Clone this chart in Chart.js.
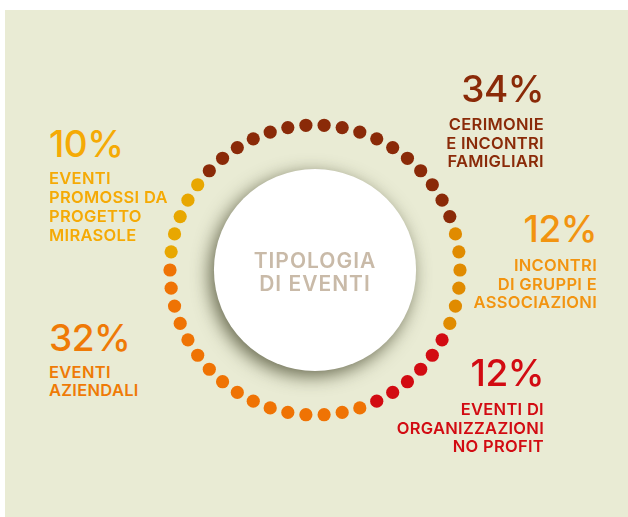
<!DOCTYPE html>
<html lang="it">
<head>
  <meta charset="UTF-8" />
  <title>Tipologia di eventi</title>
  <script src="https://cdn.jsdelivr.net/npm/chart.js"></script>
  <style>
    html, body { margin: 0; padding: 0; background: #ffffff; }
    body {
      width: 628px; height: 517px;
      position: relative; overflow: hidden;
      font-family: Inter, "Open Sans", sans-serif;
    }
    #panel { position: absolute; left: 5px; top: 10px; right: 0; bottom: 0; background: #e9ebd4; }
    #ring { position: absolute; left: 150px; top: 105px; width: 330px; height: 330px; }
    .pct { position: absolute; font-size: 37px; line-height: 40px; font-weight: 500; white-space: nowrap; letter-spacing: -0.5px; }
    .txt { position: absolute; font-size: 16.5px; line-height: 18.5px; font-weight: 600; white-space: nowrap; letter-spacing: 0.3px; }
    .right { text-align: right; }
    #center {
      position: absolute; left: 215px; top: 249px; width: 200px;
      text-align: center; font-size: 21px; line-height: 23.4px; font-weight: 600; color: #c9baa8;
      letter-spacing: 1px;
    }
  </style>
</head>
<body>
  <div id="panel"></div>
  <canvas id="ring" width="330" height="330"></canvas>
  <div id="center">TIPOLOGIA<br>DI EVENTI</div>
  <div id="labels"></div>

  <script>
    // categories clockwise from the top-left start of the ring
    const categories = [
      "Cerimonie e incontri famigliari",
      "Incontri di gruppi e associazioni",
      "Eventi di organizzazioni no profit",
      "Eventi aziendali",
      "Eventi promossi da progetto Mirasole"
    ];
    const percentages = [34, 12, 12, 32, 10];
    const labelLines = [
      ["CERIMONIE", "E INCONTRI", "FAMIGLIARI"],
      ["INCONTRI", "DI GRUPPI E", "ASSOCIAZIONI"],
      ["EVENTI DI", "ORGANIZZAZIONI", "NO PROFIT"],
      ["EVENTI", "AZIENDALI"],
      ["EVENTI", "PROMOSSI DA", "PROGETTO", "MIRASOLE"]
    ];
    const dotColors = ["#8a2a08", "#e08b00", "#d20b12", "#ef7304", "#e8a700"];
    const textColors = ["#8a2a08", "#f29410", "#d20b12", "#ef7a06", "#f5aa05"];
    const percentPerDot = 2;

    // one dot = 2%
    const dotLabels = [], dotValues = [], dotFill = [];
    categories.forEach((cat, i) => {
      const n = percentages[i] / percentPerDot;
      for (let k = 0; k < n; k++) {
        dotLabels.push(cat);
        dotValues.push(1);
        dotFill.push(dotColors[i]);
      }
    });

    // label blocks placement
    const blocks = [
      { side: "right", x: 84, pctTop: 68.5, txtTop: 115 },
      { side: "right", x: 31, pctTop: 208.5, txtTop: 256 },
      { side: "right", x: 84, pctTop: 353, txtTop: 400 },
      { side: "left", x: 49, pctTop: 317.5, txtTop: 362.5 },
      { side: "left", x: 49, pctTop: 123.5, txtTop: 168.5, lh: 19 }
    ];
    const holder = document.getElementById("labels");
    blocks.forEach((b, i) => {
      const p = document.createElement("div");
      p.className = "pct" + (b.side === "right" ? " right" : "");
      p.textContent = percentages[i] + "%";
      p.style.color = textColors[i];
      p.style.top = b.pctTop + "px";
      p.style[b.side] = b.x + "px";
      holder.appendChild(p);

      const t = document.createElement("div");
      t.className = "txt" + (b.side === "right" ? " right" : "");
      t.innerHTML = labelLines[i].join("<br>");
      t.style.color = textColors[i];
      t.style.top = b.txtTop + "px";
      t.style[b.side] = b.x + "px";
      if (b.lh) t.style.lineHeight = b.lh + "px";
      holder.appendChild(t);
    });

    // white disc with shadow in the middle of the ring
    const centerDisc = {
      id: "centerDisc",
      beforeDatasetsDraw(chart) {
        const r = chart.scales.r;
        const ctx = chart.ctx;
        ctx.save();
        ctx.shadowColor = "rgba(60, 62, 35, 0.75)";
        ctx.shadowBlur = 18;
        ctx.shadowOffsetX = -4;
        ctx.shadowOffsetY = 5;
        ctx.fillStyle = "#ffffff";
        ctx.beginPath();
        ctx.arc(r.xCenter, r.yCenter, r.drawingArea * 0.697, 0, Math.PI * 2);
        ctx.fill();
        ctx.restore();
      }
    };

    new Chart(document.getElementById("ring"), {
      type: "radar",
      data: {
        labels: dotLabels,
        datasets: [{
          data: dotValues,
          showLine: false,
          fill: false,
          borderWidth: 0,
          pointRadius: 6.6,
          pointBorderWidth: 0,
          pointBackgroundColor: dotFill,
          clip: false
        }]
      },
      options: {
        responsive: false,
        animation: false,
        layout: { padding: 20 },
        plugins: { legend: { display: false }, tooltip: { enabled: false } },
        scales: {
          r: {
            min: 0,
            max: 1,
            startAngle: -46.8,
            ticks: { display: false },
            grid: { display: false },
            angleLines: { display: false },
            pointLabels: { display: false }
          }
        }
      },
      plugins: [centerDisc]
    });
  </script>
</body>
</html>
